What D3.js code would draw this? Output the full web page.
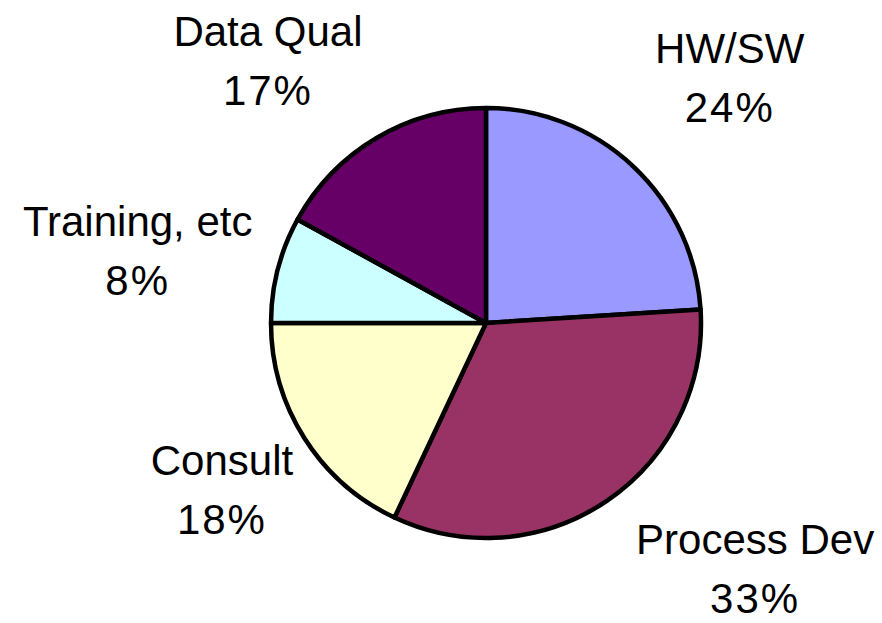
<!DOCTYPE html>
<html>
<head>
<meta charset="utf-8">
<script src="https://cdn.jsdelivr.net/npm/d3@7"></script>
<style>
  html, body { margin: 0; padding: 0; background: #ffffff; }
  svg { display: block; }
  text { font-family: "Liberation Sans", Arial, sans-serif; fill: #000; }
</style>
</head>
<body>
<svg id="chart" width="882" height="623"></svg>
<script>
// ---- data ----
const categories = ["HW/SW", "Process Dev", "Consult", "Training, etc", "Data Qual"];
const values = [24, 33, 18, 8, 17];
const percentLabels = ["24%", "33%", "18%", "8%", "17%"];
const colors = ["#9999FF", "#993366", "#FFFFCC", "#CCFFFF", "#660066"];

// ---- layout ----
const W = 882, H = 623;
const cx = 486, cy = 323, radius = 215;
const labelRadius = 340;
// label nudges (Excel-like placement) relative to radial label point
const nudges = [[11, 3], [78, -35], [23, -15], [-19, 13], [-45, 31]];
const fontSize = 42, lineGap = 59;

const svg = d3.select("#chart");
const g = svg.append("g").attr("transform", `translate(${cx},${cy})`);

const data = categories.map((c, i) => ({ name: c, value: values[i], pct: percentLabels[i], color: colors[i] }));

const pie = d3.pie().sort(null).value(d => d.value);
const arcs = pie(data);

const arc = d3.arc().innerRadius(0).outerRadius(radius);
const labelArc = d3.arc().innerRadius(labelRadius).outerRadius(labelRadius);

g.selectAll("path.slice")
  .data(arcs)
  .join("path")
  .attr("class", "slice")
  .attr("d", arc)
  .attr("fill", d => d.data.color)
  .attr("stroke", "#000")
  .attr("stroke-width", 4.5)
  .attr("stroke-linejoin", "round");

const labels = g.selectAll("text.label")
  .data(arcs)
  .join("text")
  .attr("class", "label")
  .attr("text-anchor", "middle")
  .attr("font-size", fontSize)
  .attr("transform", (d, i) => {
    const [x, y] = labelArc.centroid(d);
    return `translate(${x + nudges[i][0]},${y + nudges[i][1]})`;
  });

labels.append("tspan")
  .attr("x", 0)
  .attr("y", -15)
  .text(d => d.data.name);

labels.append("tspan")
  .attr("x", 0)
  .attr("y", -15 + lineGap)
  .attr("letter-spacing", 2)
  .text(d => d.data.pct);
</script>
</body>
</html>
